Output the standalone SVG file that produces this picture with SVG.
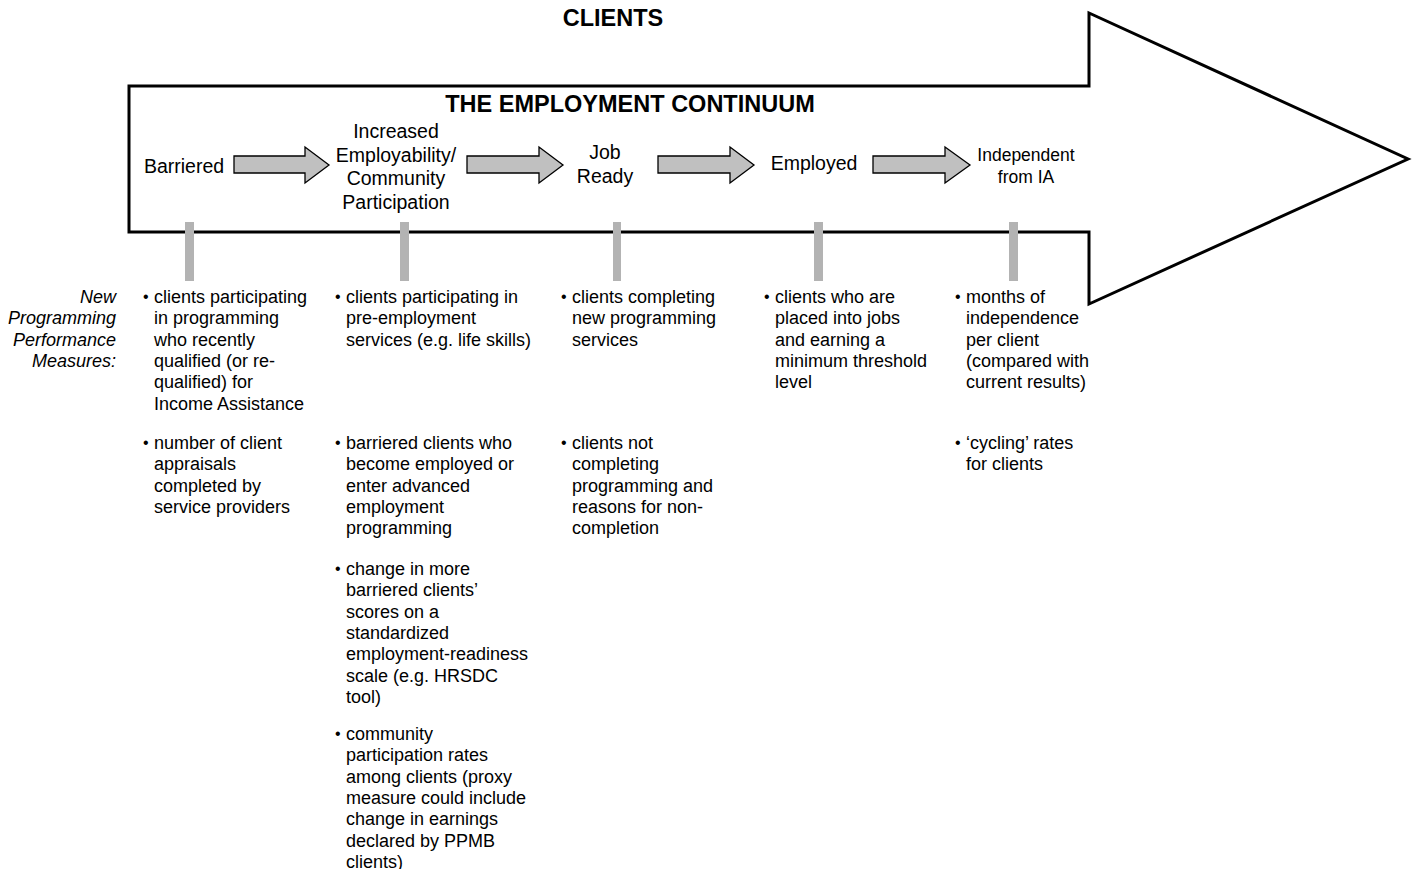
<svg xmlns="http://www.w3.org/2000/svg" width="1417" height="869" viewBox="0 0 1417 869">
<style>
.t{font-family:"Liberation Sans",Arial,sans-serif;fill:#000}
.h{font-size:23.5px;font-weight:bold;text-anchor:middle}
.st{font-size:19.5px;text-anchor:middle}
.b{font-size:18px}
.i{font-size:18px;font-style:italic;text-anchor:end}
.dot{font-size:16px}
.arr{fill:#c0c0c0;stroke:#000;stroke-width:1.3}
.bar{fill:#b3b3b3}
</style>
<rect width="1417" height="869" fill="#fff"/>
<g id="continuum">
<polygon points="129,86 1089,86 1089,13 1408,159 1089,304 1089,232 129,232" fill="#fff" stroke="#000" stroke-width="3" stroke-linejoin="miter"/>
</g>
<text class="t h" x="613" y="26">CLIENTS</text>
<text class="t h" x="630" y="112">THE EMPLOYMENT CONTINUUM</text>
<g id="stage-barriered"><text class="t st" x="184" y="173">Barriered</text></g>
<g id="stage-increased"><text class="t st" x="396" y="138"><tspan x="396">Increased</tspan><tspan x="396" dy="23.7">Employability/</tspan><tspan x="396" dy="23.7">Community</tspan><tspan x="396" dy="23.7">Participation</tspan></text></g>
<g id="stage-jobready"><text class="t st" x="605" y="159"><tspan x="605">Job</tspan><tspan x="605" dy="24">Ready</tspan></text></g>
<g id="stage-employed"><text class="t st" x="814" y="170">Employed</text></g>
<g id="stage-independent"><text class="t st" style="font-size:17.5px" x="1026" y="161"><tspan x="1026">Independent</tspan><tspan x="1026" dy="22">from IA</tspan></text></g>
<g id="connectors">
<polygon class="arr" points="234,156 305,156 305,147 329,165 305,183 305,173 234,173"/>
<polygon class="arr" points="467,156 539,156 539,147 563,165 539,183 539,173 467,173"/>
<polygon class="arr" points="658,156 730,156 730,147 754,165 730,183 730,173 658,173"/>
<polygon class="arr" points="873,156 945,156 945,147 970,165 945,183 945,173 873,173"/>
<rect class="bar" x="185" y="222" width="9" height="59"/>
<rect class="bar" x="400" y="222" width="9" height="59"/>
<rect class="bar" x="613" y="222" width="8" height="59"/>
<rect class="bar" x="814" y="222" width="9" height="59"/>
<rect class="bar" x="1009" y="222" width="9" height="59"/>
</g>
<g id="label-measures"><text class="t i" x="116" y="303"><tspan x="116">New</tspan><tspan x="116" dy="21.3">Programming</tspan><tspan x="116" dy="21.3">Performance</tspan><tspan x="116" dy="21.3">Measures:</tspan></text></g>
<g id="measures-barriered">
<text class="t dot" x="143" y="302">•</text>
<text class="t b" y="303"><tspan x="154">clients participating</tspan><tspan x="154" dy="21.3">in programming</tspan><tspan x="154" dy="21.3">who recently</tspan><tspan x="154" dy="21.3">qualified (or re-</tspan><tspan x="154" dy="21.3">qualified) for</tspan><tspan x="154" dy="21.3">Income Assistance</tspan></text>
<text class="t dot" x="143" y="448">•</text>
<text class="t b" y="449"><tspan x="154">number of client</tspan><tspan x="154" dy="21.3">appraisals</tspan><tspan x="154" dy="21.3">completed by</tspan><tspan x="154" dy="21.3">service providers</tspan></text>
</g>
<g id="measures-increased">
<text class="t dot" x="335" y="302">•</text>
<text class="t b" y="303"><tspan x="346">clients participating in</tspan><tspan x="346" dy="21.3">pre-employment</tspan><tspan x="346" dy="21.3">services (e.g. life skills)</tspan></text>
<text class="t dot" x="335" y="448">•</text>
<text class="t b" y="449"><tspan x="346">barriered clients who</tspan><tspan x="346" dy="21.3">become employed or</tspan><tspan x="346" dy="21.3">enter advanced</tspan><tspan x="346" dy="21.3">employment</tspan><tspan x="346" dy="21.3">programming</tspan></text>
<text class="t dot" x="335" y="574">•</text>
<text class="t b" y="575"><tspan x="346">change in more</tspan><tspan x="346" dy="21.3">barriered clients’</tspan><tspan x="346" dy="21.3">scores on a</tspan><tspan x="346" dy="21.3">standardized</tspan><tspan x="346" dy="21.3">employment-readiness</tspan><tspan x="346" dy="21.3">scale (e.g. HRSDC</tspan><tspan x="346" dy="21.3">tool)</tspan></text>
<text class="t dot" x="335" y="739">•</text>
<text class="t b" y="740"><tspan x="346">community</tspan><tspan x="346" dy="21.3">participation rates</tspan><tspan x="346" dy="21.3">among clients (proxy</tspan><tspan x="346" dy="21.3">measure could include</tspan><tspan x="346" dy="21.3">change in earnings</tspan><tspan x="346" dy="21.3">declared by PPMB</tspan><tspan x="346" dy="21.3">clients)</tspan></text>
</g>
<g id="measures-jobready">
<text class="t dot" x="561" y="302">•</text>
<text class="t b" y="303"><tspan x="572">clients completing</tspan><tspan x="572" dy="21.3">new programming</tspan><tspan x="572" dy="21.3">services</tspan></text>
<text class="t dot" x="561" y="448">•</text>
<text class="t b" y="449"><tspan x="572">clients not</tspan><tspan x="572" dy="21.3">completing</tspan><tspan x="572" dy="21.3">programming and</tspan><tspan x="572" dy="21.3">reasons for non-</tspan><tspan x="572" dy="21.3">completion</tspan></text>
</g>
<g id="measures-employed">
<text class="t dot" x="764" y="302">•</text>
<text class="t b" y="303"><tspan x="775">clients who are</tspan><tspan x="775" dy="21.3">placed into jobs</tspan><tspan x="775" dy="21.3">and earning a</tspan><tspan x="775" dy="21.3">minimum threshold</tspan><tspan x="775" dy="21.3">level</tspan></text>
</g>
<g id="measures-independent">
<text class="t dot" x="955" y="302">•</text>
<text class="t b" y="303"><tspan x="966">months of</tspan><tspan x="966" dy="21.3">independence</tspan><tspan x="966" dy="21.3">per client</tspan><tspan x="966" dy="21.3">(compared with</tspan><tspan x="966" dy="21.3">current results)</tspan></text>
<text class="t dot" x="955" y="448">•</text>
<text class="t b" y="449"><tspan x="966">‘cycling’ rates</tspan><tspan x="966" dy="21.3">for clients</tspan></text>
</g>
</svg>
